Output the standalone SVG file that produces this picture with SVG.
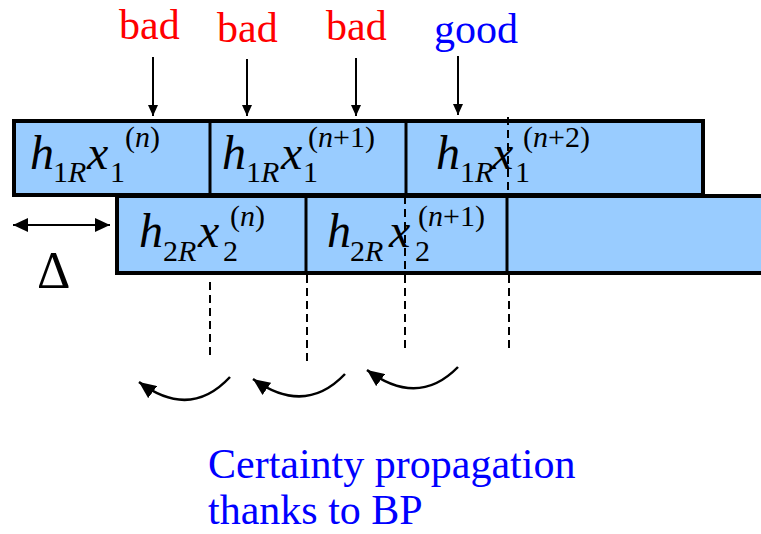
<svg xmlns="http://www.w3.org/2000/svg" width="761" height="534" viewBox="0 0 761 534">
<style>
.box{fill:#99CCFF;stroke:#000;stroke-width:4}
.div{stroke:#000;stroke-width:3}
.dash{stroke:#000;stroke-width:2;stroke-dasharray:8 5;fill:none}
.arr{stroke:#000;stroke-width:2;fill:none}
.curve{stroke:#000;stroke-width:2.5;fill:none}
.m{font-family:"Liberation Serif","Times New Roman",serif;fill:#000}
.big{font-size:48px;font-style:italic}
.sm{font-size:30px}
.it{font-style:italic}
.lbl{font-family:"Liberation Serif","Times New Roman",serif;font-size:42px}
</style>
<defs>
<marker id="ah" markerUnits="userSpaceOnUse" markerWidth="11" markerHeight="10" refX="11" refY="5" orient="auto"><path d="M0,0 L11,5 L0,10 z" fill="#000"/></marker>
<marker id="ah2" markerUnits="userSpaceOnUse" markerWidth="15" markerHeight="14" refX="15" refY="7" orient="auto-start-reverse"><path d="M0,0 L15,7 L0,14 z" fill="#000"/></marker>
<marker id="ah3" markerUnits="userSpaceOnUse" markerWidth="17" markerHeight="15" refX="17" refY="7.5" orient="auto"><path d="M0,0 L17,7.5 L0,15 z" fill="#000"/></marker>
</defs>

<g id="row2">
<rect class="box" x="117" y="196" width="660" height="77"/>
<line class="div" x1="306" y1="196" x2="306" y2="273"/>
<line class="div" x1="507" y1="196" x2="507" y2="273"/>
</g>
<g id="row1">
<rect class="box" x="14" y="121" width="689" height="74"/>
<line class="div" x1="210" y1="121" x2="210" y2="195"/>
<line class="div" x1="406" y1="121" x2="406" y2="195"/>
</g>

<g id="cell-t1" class="m">
<text x="30" y="169" class="big">h</text>
<text x="53" y="182" class="sm">1<tspan class="it">R</tspan></text>
<text x="87" y="169" class="big">x</text>
<text x="110" y="182" class="sm">1</text>
<text x="125" y="147" class="sm">(<tspan class="it">n</tspan>)</text>
</g>
<g id="cell-t2" class="m">
<text x="222" y="169" class="big">h</text>
<text x="246" y="182" class="sm">1<tspan class="it">R</tspan></text>
<text x="281" y="169" class="big">x</text>
<text x="303" y="182" class="sm">1</text>
<text x="308" y="147" class="sm">(<tspan class="it">n</tspan>+1)</text>
</g>
<g id="cell-t3" class="m">
<text x="436" y="169" class="big">h</text>
<text x="460" y="182" class="sm">1<tspan class="it">R</tspan></text>
<text x="492" y="169" class="big">x</text>
<text x="515" y="182" class="sm">1</text>
<text x="523" y="147" class="sm">(<tspan class="it">n</tspan>+2)</text>
</g>
<g id="cell-b1" class="m">
<text x="139" y="247" class="big">h</text>
<text x="163" y="261" class="sm">2<tspan class="it">R</tspan></text>
<text x="198" y="247" class="big">x</text>
<text x="223" y="261" class="sm">2</text>
<text x="230" y="226" class="sm">(<tspan class="it">n</tspan>)</text>
</g>
<g id="cell-b2" class="m">
<text x="327" y="247" class="big">h</text>
<text x="350" y="261" class="sm">2<tspan class="it">R</tspan></text>
<text x="389" y="247" class="big">x</text>
<text x="415" y="261" class="sm">2</text>
<text x="418" y="226" class="sm">(<tspan class="it">n</tspan>+1)</text>
</g>

<g id="labels" class="lbl">
<text x="119" y="39" fill="#FF0000">bad</text>
<text x="217" y="42" fill="#FF0000">bad</text>
<text x="326" y="40" fill="#FF0000">bad</text>
<text x="434" y="43" fill="#0000FF">good</text>
<text x="37" y="288" font-size="52" fill="#000">Δ</text>
<text x="208" y="478" fill="#0000FF">Certainty propagation</text>
<text x="208" y="524" fill="#0000FF">thanks to BP</text>
</g>

<g id="connectors">
<line class="arr" x1="153" y1="57" x2="153" y2="116" marker-end="url(#ah)"/>
<line class="arr" x1="247" y1="59" x2="247" y2="116" marker-end="url(#ah)"/>
<line class="arr" x1="356" y1="58" x2="356" y2="116" marker-end="url(#ah)"/>
<line class="arr" x1="458" y1="56" x2="458" y2="115" marker-end="url(#ah)"/>
<line class="arr" x1="13" y1="225" x2="110" y2="225" stroke-width="2.5" marker-start="url(#ah2)" marker-end="url(#ah2)"/>
<line class="dash" x1="508" y1="117" x2="508" y2="195"/>
<line class="dash" x1="405" y1="196" x2="405" y2="273"/>
<line class="dash" x1="210" y1="282" x2="210" y2="358"/>
<line class="dash" x1="307" y1="275" x2="307" y2="362"/>
<line class="dash" x1="405" y1="275" x2="405" y2="353"/>
<line class="dash" x1="509" y1="275" x2="509" y2="349"/>
<path class="curve" d="M230,377 Q190,420 139,382" marker-end="url(#ah3)"/>
<path class="curve" d="M345,374 Q305,416 253,379" marker-end="url(#ah3)"/>
<path class="curve" d="M458,367 Q418,408 367,370" marker-end="url(#ah3)"/>
</g>
</svg>
